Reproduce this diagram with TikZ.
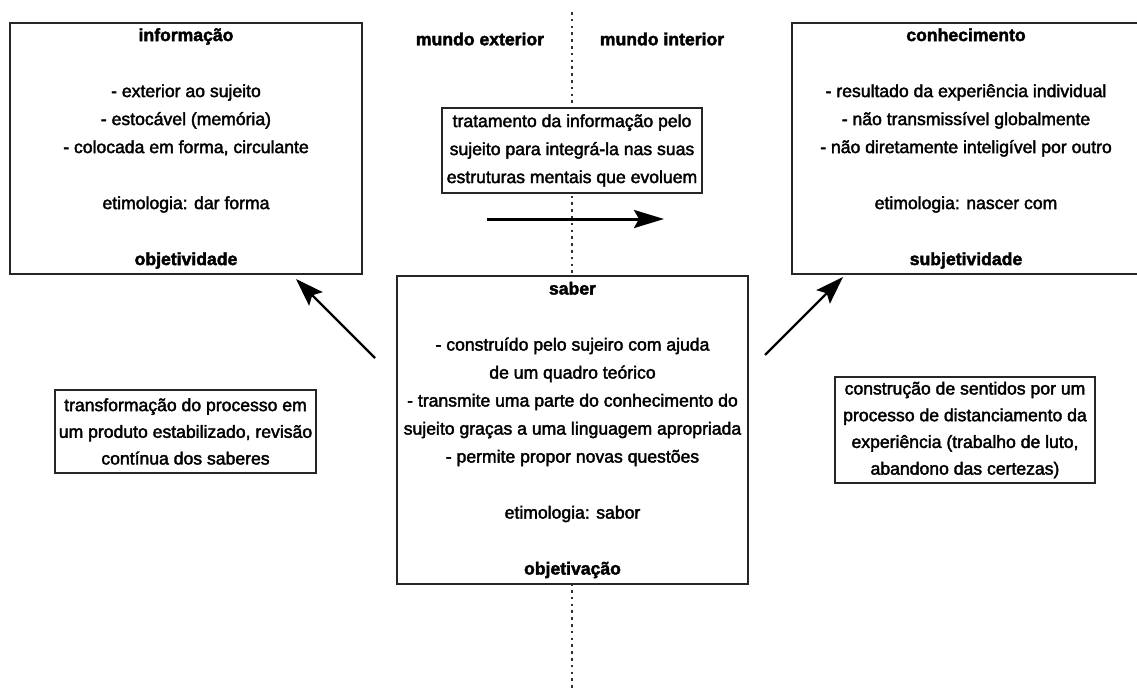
\documentclass[tikz,border=0pt]{standalone}
\usepackage{fontspec}
\setmainfont{Liberation Sans}
\newfontfamily\bodyfont[FakeBold=2.2]{Liberation Sans}
\newfontfamily\headfont[FakeBold=2.2]{Liberation Sans Bold}
\usetikzlibrary{arrows.meta}
\begin{document}
\begin{tikzpicture}[x=1pt,y=-1pt,
  box/.style={draw=black!85, line width=1.5pt, fill=white, inner sep=0pt, outer sep=0pt, align=center,
    font=\bodyfont\fontsize{17.6}{28}\selectfont},
  smallbox/.style={box, font=\bodyfont\fontsize{17.6}{26.7}\selectfont},
  side/.style={font=\headfont\fontsize{17.6}{28}\selectfont, inner sep=0pt},
  thickarrow/.style={line width=3pt, -{Stealth[length=30pt,width=18pt,inset=5pt]}},
  diagarrow/.style={line width=2.4pt, -{Stealth[length=28pt,width=19pt,inset=5pt]}},
  sep/.style={line width=2.8pt, black!80, dash pattern=on 2.6pt off 4.2pt}
]
\useasboundingbox (0,0) rectangle (1137,691);

\coordinate (ltop) at (572,12);
\coordinate (lbot) at (572,691);
\draw[sep] (ltop) -- (lbot);

\node[side] (ext) at (480,39) {mundo exterior};
\node[side] (int) at (662,39) {mundo interior};

\node[box, minimum width=352pt, minimum height=251pt] (info) at (186,148.5)
 {{\headfont informação}\\[28pt]
  - exterior ao sujeito\\
  - estocável (memória)\\
  - colocada em forma, circulante\\[28pt]
  etimologia: dar forma\\[28pt]
  {\headfont objetividade}};

\node[box, minimum width=348pt, minimum height=251pt] (conh) at (966,148.5)
 {{\headfont conhecimento}\\[28pt]
  - resultado da experiência individual\\
  - não transmissível globalmente\\
  - não diretamente inteligível por outro\\[28pt]
  etimologia: nascer com\\[28pt]
  {\headfont subjetividade}};

\node[box, minimum width=260pt, minimum height=85pt] (trat) at (572,150.5)
 {tratamento da informação pelo\\
  sujeito para integrá-la nas suas\\
  estruturas mentais que evoluem};

\node[box, minimum width=351pt, minimum height=308pt] (saber) at (572.5,430)
 {{\headfont saber}\\[28pt]
  - construído pelo sujeiro com ajuda\\
  de um quadro teórico\\
  - transmite uma parte do conhecimento do\\
  sujeito graças a uma linguagem apropriada\\
  - permite propor novas questões\\[28pt]
  etimologia: sabor\\[28pt]
  {\headfont objetivação}};

\node[smallbox, minimum width=261pt, minimum height=83pt] (trans) at (185.5,431.5)
 {transformação do processo em\\
  um produto estabilizado, revisão\\
  contínua dos saberes};

\node[smallbox, minimum width=260pt, minimum height=106pt] (constr) at (965,430)
 {construção de sentidos por um\\
  processo de distanciamento da\\
  experiência (trabalho de luto,\\
  abandono das certezas)};

\coordinate (hs) at (487,219);
\coordinate (he) at (664,219);
\draw[thickarrow] (hs) -- (he);

\coordinate (ls) at (375,358);
\coordinate (le) at (296,279);
\draw[diagarrow] (ls) -- (le);

\coordinate (rs) at (765,355);
\coordinate (re) at (843,277);
\draw[diagarrow] (rs) -- (re);
\end{tikzpicture}
\end{document}
